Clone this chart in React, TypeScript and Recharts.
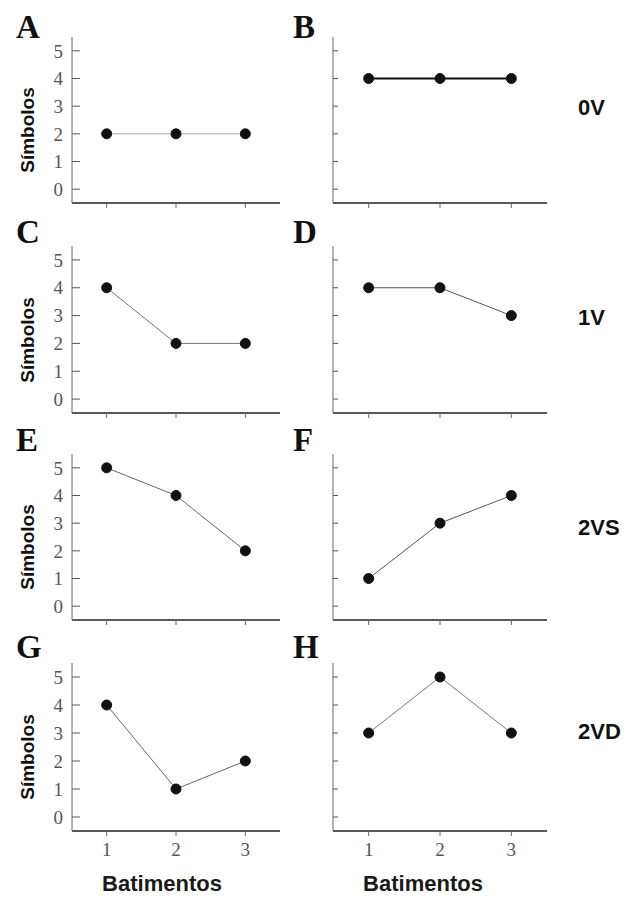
import React from 'react';
import { Line, LineChart, XAxis, YAxis } from 'recharts';

// eixo x (batimentos) e eixo y (símbolos)
const batimentos = [1, 2, 3];
const yTicks = [0, 1, 2, 3, 4, 5];

// valores de cada painel
const serieA = [2, 2, 2];
const serieB = [4, 4, 4];
const serieC = [4, 2, 2];
const serieD = [4, 4, 3];
const serieE = [5, 4, 2];
const serieF = [1, 3, 4];
const serieG = [4, 1, 2];
const serieH = [3, 5, 3];

const letters = ['A', 'B', 'C', 'D', 'E', 'F', 'G', 'H'];
const rowLabels = ['0V', '1V', '2VS', '2VD'];

// geometria das linhas (topo e base da área do gráfico)
const rowTop = [37, 246, 454, 663];
const rowBottom = [203, 413, 620, 831];
const letterBaseline = [41, 246, 454, 661];
const rowLabelY = [108, 318, 528, 732];

type PanelProps = {
  values: number[];
  left: boolean;
  row: number;
  lineColor: string;
  lineWidth: number;
};

const serif = '"Liberation Serif", "DejaVu Serif", serif';
const sans = '"Liberation Sans", Arial, sans-serif';
const tickStyle = { fill: '#555', fontSize: 19, fontFamily: serif };

function Panel({ values, left, row, lineColor, lineWidth }: PanelProps) {
  const data = batimentos.map((b, i) => ({ x: b, y: values[i] }));
  const bottomRow = row === 3;
  const plotH = rowBottom[row] - rowTop[row];
  const width = left ? 290 : 255;
  const yWidth = left ? 72 : 33;
  const right = left ? 10 : 8;

  return (
    <div style={{ position: 'absolute', left: left ? 0 : 300, top: rowTop[row] - 10 }}>
      <LineChart
        width={width}
        height={plotH + 10 + 30}
        data={data}
        margin={{ top: 10, right, left: 0, bottom: 0 }}
      >
        <XAxis
          type="number"
          dataKey="x"
          domain={[0.5, 3.5]}
          ticks={batimentos}
          allowDataOverflow
          height={30}
          fontSize={19}
          axisLine={{ stroke: '#222', strokeWidth: 1.4 }}
          tickLine={{ stroke: '#666' }}
          tickSize={5}
          tickMargin={7}
          tickFormatter={(v) => (bottomRow ? String(v) : '')}
          tick={tickStyle}
        />
        <YAxis
          type="number"
          dataKey="y"
          domain={[-0.5, 5.5]}
          ticks={yTicks}
          allowDataOverflow
          width={yWidth}
          fontSize={19}
          axisLine={{ stroke: '#666', strokeWidth: 1 }}
          tickLine={{ stroke: '#555' }}
          tickSize={left ? -8 : -5}
          tickMargin={left ? 17 : 10}
          tickFormatter={(v) => (left ? String(v) : '')}
          tick={tickStyle}
        />
        <Line
          type="linear"
          dataKey="y"
          stroke={lineColor}
          strokeWidth={lineWidth}
          dot={{ r: 5, fill: '#111', stroke: '#111', strokeWidth: 1 }}
          isAnimationActive={false}
        />
      </LineChart>
    </div>
  );
}

const panels = [
  { values: serieA, color: '#aaa', w: 1 },
  { values: serieB, color: '#111', w: 2 },
  { values: serieC, color: '#777', w: 1 },
  { values: serieD, color: '#555', w: 1 },
  { values: serieE, color: '#666', w: 1 },
  { values: serieF, color: '#555', w: 1 },
  { values: serieG, color: '#666', w: 1 },
  { values: serieH, color: '#777', w: 1 },
];

export default function App() {
  return (
    <div
      style={{
        position: 'absolute',
        left: 0,
        top: 0,
        width: 630,
        height: 905,
        background: '#fff',
        overflow: 'hidden',
      }}
    >
      {panels.map((p, i) => (
        <Panel
          key={letters[i]}
          values={p.values}
          left={i % 2 === 0}
          row={Math.floor(i / 2)}
          lineColor={p.color}
          lineWidth={p.w}
        />
      ))}

      {letters.map((l, i) => {
        const row = Math.floor(i / 2);
        return (
          <div
            key={'lt' + l}
            style={{
              position: 'absolute',
              left: i % 2 === 0 ? 16 : 293,
              top: letterBaseline[row] - 30,
              fontFamily: serif,
              fontWeight: 'bold',
              fontSize: 33,
              lineHeight: '33px',
              color: '#111',
            }}
          >
            {l}
          </div>
        );
      })}

      {rowLabels.map((lab, r) => (
        <div
          key={'rl' + lab}
          style={{
            position: 'absolute',
            left: 578,
            top: rowLabelY[r] - 12,
            fontFamily: sans,
            fontWeight: 'bold',
            fontSize: 22,
            lineHeight: '24px',
            color: '#111',
          }}
        >
          {lab}
        </div>
      ))}

      {rowTop.map((t, r) => (
        <div
          key={'sy' + r}
          style={{
            position: 'absolute',
            left: 28,
            top: (t + rowBottom[r]) / 2 + 10,
            transform: 'translate(-50%, -50%) rotate(-90deg)',
            fontFamily: sans,
            fontWeight: 'bold',
            fontSize: 19,
            lineHeight: '20px',
            whiteSpace: 'nowrap',
            color: '#111',
          }}
        >
          Símbolos
        </div>
      ))}

      {[162, 423].map((cx, i) => (
        <div
          key={'bt' + i}
          style={{
            position: 'absolute',
            left: cx,
            top: 884,
            transform: 'translate(-50%, -50%)',
            fontFamily: sans,
            fontWeight: 'bold',
            fontSize: 22,
            lineHeight: '24px',
            whiteSpace: 'nowrap',
            color: '#1a1a1a',
          }}
        >
          Batimentos
        </div>
      ))}
    </div>
  );
}
